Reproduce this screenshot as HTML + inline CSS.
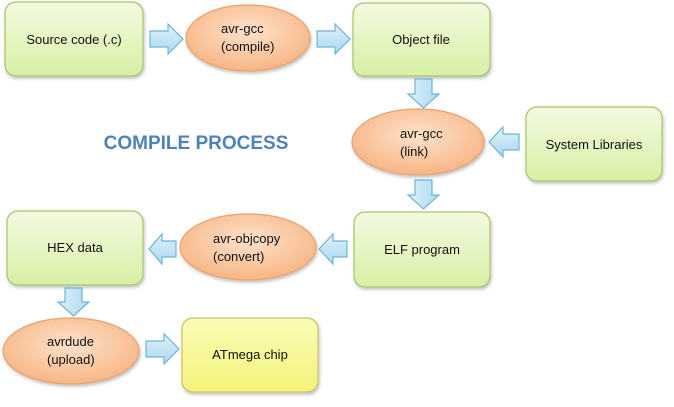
<!DOCTYPE html>
<html><head><meta charset="utf-8"><style>
html,body{margin:0;padding:0;background:#fff;}
svg{display:block;}
text{font-family:"Liberation Sans",sans-serif;font-size:13px;fill:#111;}
</style></head><body>
<svg width="674" height="407" viewBox="0 0 674 407" xmlns="http://www.w3.org/2000/svg">
<defs>
<linearGradient id="g" x1="0" y1="0" x2="0" y2="1"><stop offset="0" stop-color="#f2fadf"/><stop offset="1" stop-color="#d8efa6"/></linearGradient>
<linearGradient id="y" x1="0" y1="0" x2="0" y2="1"><stop offset="0" stop-color="#fbfbb8"/><stop offset="1" stop-color="#f3f37a"/></linearGradient>
<radialGradient id="o" cx="0.5" cy="0.4" r="0.6"><stop offset="0" stop-color="#fde2cb"/><stop offset="1" stop-color="#f7b584"/></radialGradient>
<linearGradient id="a" x1="0" y1="0" x2="0" y2="1"><stop offset="0" stop-color="#dff1fa"/><stop offset="1" stop-color="#a9d9ef"/></linearGradient>
<linearGradient id="av" x1="0" y1="0" x2="1" y2="0"><stop offset="0" stop-color="#dff1fa"/><stop offset="1" stop-color="#a9d9ef"/></linearGradient>
<filter id="s" x="-10%" y="-10%" width="125%" height="130%"><feDropShadow dx="1" dy="2" stdDeviation="1.5" flood-color="#000" flood-opacity="0.25"/></filter>
</defs>
<g stroke="#a9c46a" stroke-width="1.2" filter="url(#s)">
<rect x="5" y="2" width="138" height="74" rx="11" fill="url(#g)"/>
<rect x="353" y="3" width="137" height="73" rx="11" fill="url(#g)"/>
<rect x="526" y="107" width="136" height="74" rx="11" fill="url(#g)"/>
<rect x="354" y="212" width="136" height="75" rx="11" fill="url(#g)"/>
<rect x="7" y="211" width="136" height="74" rx="11" fill="url(#g)"/>
<rect x="182" y="318" width="136" height="74" rx="11" fill="url(#y)" stroke="#c6c65c"/>
</g>
<g stroke="#e8a270" stroke-width="1.2" filter="url(#s)" fill="url(#o)">
<ellipse cx="248" cy="38" rx="62" ry="33"/>
<ellipse cx="418" cy="142" rx="66" ry="33"/>
<ellipse cx="248" cy="247" rx="68" ry="33"/>
<ellipse cx="71" cy="351" rx="68" ry="33"/>
</g>
<g stroke="#6fb3d6" stroke-width="1.2">
<!-- right arrows -->
<path d="M150,31 H168 V24 L183,39 L168,54 V47 H150 Z" fill="url(#a)"/>
<path d="M317,31 H335 V24 L350,39 L335,54 V47 H317 Z" fill="url(#a)"/>
<path d="M146,341 H164 V334 L179,349 L164,364 V357 H146 Z" fill="url(#a)"/>
<!-- left arrows -->
<path d="M519,134 H503 V127 L489,142 L503,157 V150 H519 Z" fill="url(#a)"/>
<path d="M347,241 H333 V234 L319,249 L333,264 V257 H347 Z" fill="url(#a)"/>
<path d="M176,241 H162 V234 L149,249 L162,264 V257 H176 Z" fill="url(#a)"/>
<!-- down arrows -->
<path d="M415,79 H432 V94 H439 L423.5,108 L408,94 H415 Z" fill="url(#av)"/>
<path d="M415,180 H432 V195 H439 L423.5,209 L408,195 H415 Z" fill="url(#av)"/>
<path d="M65,288 H82 V302 H89 L73.5,316 L58,302 H65 Z" fill="url(#av)"/>
</g>
<g text-anchor="middle">
<text x="74" y="44">Source code (.c)</text>
<text x="421" y="44">Object file</text>
<text x="594" y="149">System Libraries</text>
<text x="422" y="254">ELF program</text>
<text x="75" y="252">HEX data</text>
<text x="250" y="359">ATmega chip</text>
</g>
<text x="221" y="33">avr-gcc</text>
<text x="221" y="51">(compile)</text>
<text x="400" y="138">avr-gcc</text>
<text x="400" y="156">(link)</text>
<text x="213" y="243">avr-objcopy</text>
<text x="213" y="261">(convert)</text>
<text x="47" y="346">avrdude</text>
<text x="47" y="364">(upload)</text>
<text x="196" y="149" text-anchor="middle" style="font-size:19px;font-weight:bold;fill:#4f81bd">COMPILE PROCESS</text>
</svg>
</body></html>
